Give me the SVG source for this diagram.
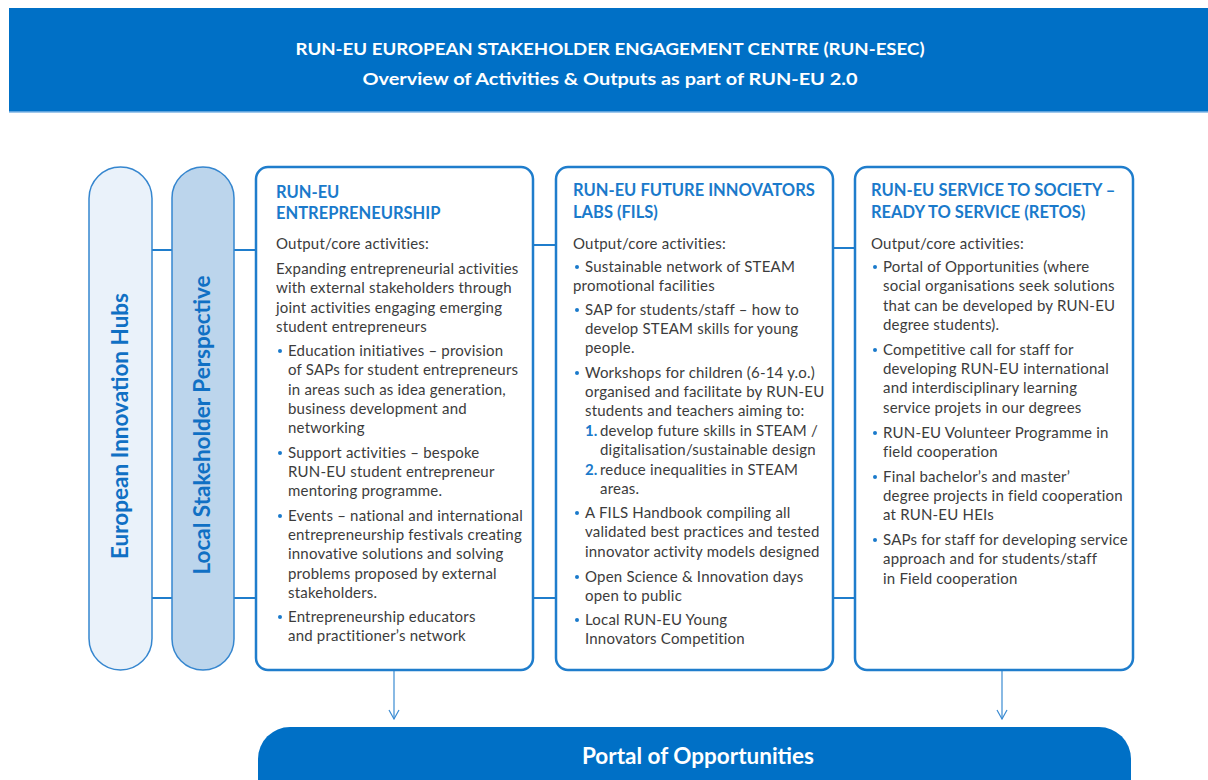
<svg xmlns="http://www.w3.org/2000/svg" width="1208" height="780" viewBox="0 0 1208 780">
<defs>
<style>
.hdr{font-family:Lato,"Liberation Sans",sans-serif;font-weight:bold;font-size:17px;fill:#fff;text-anchor:middle}
.pilltxt{font-family:Lato,"Liberation Sans",sans-serif;font-weight:bold;font-size:22.5px;fill:#1070C4;text-anchor:middle}
.box{fill:#fff;stroke:#1F7DCC;stroke-width:2.5}
.ttl{font-family:Lato,"Liberation Sans",sans-serif;font-weight:bold;font-size:16.5px;fill:#1A7ACB}
.body{font-family:Lato,"Liberation Sans",sans-serif;font-size:15px;letter-spacing:0.2px;fill:#3C3C3C}
.bul{fill:#1A7ACB}
.num{font-family:Lato,"Liberation Sans",sans-serif;font-weight:bold;font-size:15px;fill:#1A7ACB}
.con{stroke:#1F7DCC;stroke-width:2;fill:none}
.arr{stroke:#3A8BD2;stroke-width:1.2;fill:none}
</style>
<marker id="ah" viewBox="0 0 12 12" refX="11" refY="6" markerWidth="12" markerHeight="12" markerUnits="userSpaceOnUse" orient="auto">
<path d="M2,1 L11,6 L2,11" fill="none" stroke="#3A8BD2" stroke-width="1.2"/>
</marker>
</defs>
<rect width="1208" height="780" fill="#fff"/>
<g id="header">
<rect x="9" y="8" width="1199" height="104" fill="#0070C6"/>
<line x1="9" y1="112" x2="1208" y2="112" stroke="#7FB6E6" stroke-width="1.5"/>
<text class="hdr" x="610" y="55" textLength="629" lengthAdjust="spacingAndGlyphs">RUN-EU EUROPEAN STAKEHOLDER ENGAGEMENT CENTRE (RUN-ESEC)</text>
<text class="hdr" x="610" y="85" textLength="495" lengthAdjust="spacingAndGlyphs">Overview of Activities &amp; Outputs as part of RUN-EU 2.0</text>
</g>
<g id="connectors">
<line class="con" x1="152" y1="250" x2="172" y2="250"/>
<line class="con" x1="152" y1="598" x2="172" y2="598"/>
<line class="con" x1="234" y1="250" x2="256" y2="250"/>
<line class="con" x1="234" y1="598" x2="256" y2="598"/>
<line class="con" x1="533" y1="245" x2="556" y2="245"/>
<line class="con" x1="533" y1="598" x2="556" y2="598"/>
<line class="con" x1="833" y1="248" x2="855" y2="248"/>
<line class="con" x1="833" y1="598" x2="855" y2="598"/>
<line class="arr" x1="394" y1="671" x2="394" y2="719" marker-end="url(#ah)"/>
<line class="arr" x1="1002" y1="671" x2="1002" y2="719" marker-end="url(#ah)"/>
</g>
<g id="european-innovation-hubs">
<rect x="89" y="167" width="63" height="503" rx="31.5" fill="#EAF2FA" stroke="#3586CF" stroke-width="1.5"/>
<text class="pilltxt" transform="translate(128 426) rotate(-90)">European Innovation Hubs</text>
</g>
<g id="local-stakeholder-perspective">
<rect x="172" y="167" width="62" height="503" rx="31" fill="#BCD5EC" stroke="#3586CF" stroke-width="1.5"/>
<text class="pilltxt" transform="translate(210 425) rotate(-90)">Local Stakeholder Perspective</text>
</g>
<g id="entrepreneurship">
<rect class="box" x="256" y="167" width="277" height="503" rx="12"/>
<text class="ttl" x="276" y="198">RUN-EU</text>
<text class="ttl" x="276" y="219">ENTREPRENEURSHIP</text>
<text class="body" x="276" y="249">Output/core activities:</text>
<text class="body" x="276" y="274">Expanding entrepreneurial activities</text>
<text class="body" x="276" y="293">with external stakeholders through</text>
<text class="body" x="276" y="313">joint activities engaging emerging</text>
<text class="body" x="276" y="332">student entrepreneurs</text>
<circle class="bul" cx="280" cy="351" r="2"/>
<text class="body" x="288" y="356">Education initiatives – provision</text>
<text class="body" x="288" y="375">of SAPs for student entrepreneurs</text>
<text class="body" x="288" y="395">in areas such as idea generation,</text>
<text class="body" x="288" y="414">business development and</text>
<text class="body" x="288" y="433">networking</text>
<circle class="bul" cx="280" cy="453" r="2"/>
<text class="body" x="288" y="458">Support activities – bespoke</text>
<text class="body" x="288" y="477">RUN-EU student entrepreneur</text>
<text class="body" x="288" y="496">mentoring programme.</text>
<circle class="bul" cx="280" cy="516" r="2"/>
<text class="body" x="288" y="521">Events – national and international</text>
<text class="body" x="288" y="540">entrepreneurship festivals creating</text>
<text class="body" x="288" y="559">innovative solutions and solving</text>
<text class="body" x="288" y="579">problems proposed by external</text>
<text class="body" x="288" y="598">stakeholders.</text>
<circle class="bul" cx="280" cy="617" r="2"/>
<text class="body" x="288" y="622">Entrepreneurship educators</text>
<text class="body" x="288" y="641">and practitioner’s network</text>
</g>
<g id="future-innovators-labs">
<rect class="box" x="556" y="167" width="277" height="503" rx="12"/>
<text class="ttl" x="573" y="196">RUN-EU FUTURE INNOVATORS</text>
<text class="ttl" x="573" y="218">LABS (FILS)</text>
<text class="body" x="573" y="249">Output/core activities:</text>
<circle class="bul" cx="577" cy="267" r="2"/>
<text class="body" x="585" y="272">Sustainable network of STEAM</text>
<text class="body" x="573" y="291">promotional facilities</text>
<circle class="bul" cx="577" cy="310" r="2"/>
<text class="body" x="585" y="315">SAP for students/staff – how to</text>
<text class="body" x="585" y="334">develop STEAM skills for young</text>
<text class="body" x="585" y="353">people.</text>
<circle class="bul" cx="577" cy="373" r="2"/>
<text class="body" x="585" y="378">Workshops for children (6-14 y.o.)</text>
<text class="body" x="585" y="397">organised and facilitate by RUN-EU</text>
<text class="body" x="585" y="416">students and teachers aiming to:</text>
<text class="num" x="585" y="436">1.</text>
<text class="body" x="600" y="436">develop future skills in STEAM /</text>
<text class="body" x="600" y="455">digitalisation/sustainable design</text>
<text class="num" x="585" y="475">2.</text>
<text class="body" x="600" y="475">reduce inequalities in STEAM</text>
<text class="body" x="600" y="494">areas.</text>
<circle class="bul" cx="577" cy="513" r="2"/>
<text class="body" x="585" y="518">A FILS Handbook compiling all</text>
<text class="body" x="585" y="537">validated best practices and tested</text>
<text class="body" x="585" y="557">innovator activity models designed</text>
<circle class="bul" cx="577" cy="577" r="2"/>
<text class="body" x="585" y="582">Open Science &amp; Innovation days</text>
<text class="body" x="585" y="601">open to public</text>
<circle class="bul" cx="577" cy="620" r="2"/>
<text class="body" x="585" y="625">Local RUN-EU Young</text>
<text class="body" x="585" y="644">Innovators Competition</text>
</g>
<g id="service-to-society">
<rect class="box" x="855" y="167" width="278" height="503" rx="12"/>
<text class="ttl" x="871" y="196">RUN-EU SERVICE TO SOCIETY –</text>
<text class="ttl" x="871" y="218">READY TO SERVICE (RETOS)</text>
<text class="body" x="871" y="249">Output/core activities:</text>
<circle class="bul" cx="875" cy="267" r="2"/>
<text class="body" x="883" y="272">Portal of Opportunities (where</text>
<text class="body" x="883" y="291">social organisations seek solutions</text>
<text class="body" x="883" y="311">that can be developed by RUN-EU</text>
<text class="body" x="883" y="330">degree students).</text>
<circle class="bul" cx="875" cy="350" r="2"/>
<text class="body" x="883" y="355">Competitive call for staff for</text>
<text class="body" x="883" y="374">developing RUN-EU international</text>
<text class="body" x="883" y="393">and interdisciplinary learning</text>
<text class="body" x="883" y="413">service projets in our degrees</text>
<circle class="bul" cx="875" cy="433" r="2"/>
<text class="body" x="883" y="438">RUN-EU Volunteer Programme in</text>
<text class="body" x="883" y="457">field cooperation</text>
<circle class="bul" cx="875" cy="477" r="2"/>
<text class="body" x="883" y="482">Final bachelor’s and master’</text>
<text class="body" x="883" y="501">degree projects in field cooperation</text>
<text class="body" x="883" y="520">at RUN-EU HEIs</text>
<circle class="bul" cx="875" cy="540" r="2"/>
<text class="body" x="883" y="545">SAPs for staff for developing service</text>
<text class="body" x="883" y="564">approach and for students/staff</text>
<text class="body" x="883" y="584">in Field cooperation</text>
</g>
<g id="portal-of-opportunities">
<rect x="258" y="727" width="873" height="90" rx="32" fill="#0070C6"/>
<text class="hdr" x="698" y="764" style="font-size:22.5px">Portal of Opportunities</text>
</g>
</svg>
